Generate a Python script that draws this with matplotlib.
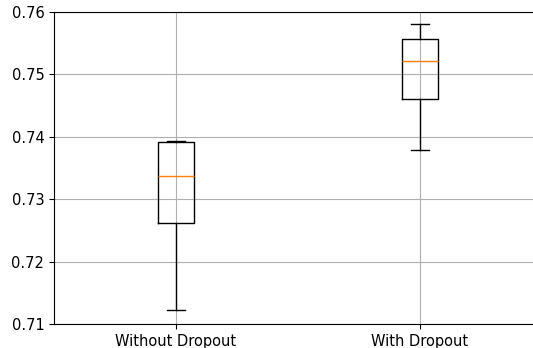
import matplotlib
matplotlib.use("Agg")
import matplotlib.pyplot as plt

# box statistics
labels = ["Without Dropout", "With Dropout"]
whislo = [0.7122, 0.7379]
q1 = [0.7262, 0.7461]
med = [0.7337, 0.7522]
q3 = [0.7391, 0.7557]
whishi = [0.7393, 0.7580]

stats = []
for i in range(len(labels)):
    stats.append(dict(label=labels[i], whislo=whislo[i], q1=q1[i], med=med[i],
                      q3=q3[i], whishi=whishi[i], fliers=[]))

fig = plt.figure(figsize=(5.33, 3.48), dpi=100)
# the original image is cropped on the right, so the axes run past the edge
ax = fig.add_axes([54 / 533, 24 / 348, 488 / 533, 312 / 348])
ax.bxp(stats, showfliers=False)
ax.set_ylim(0.71, 0.76)
ax.set_xlim(0.5, 2.5)
ax.grid(True)
ax.tick_params(labelsize=10.5)

fig.savefig("out.png", dpi=100)
